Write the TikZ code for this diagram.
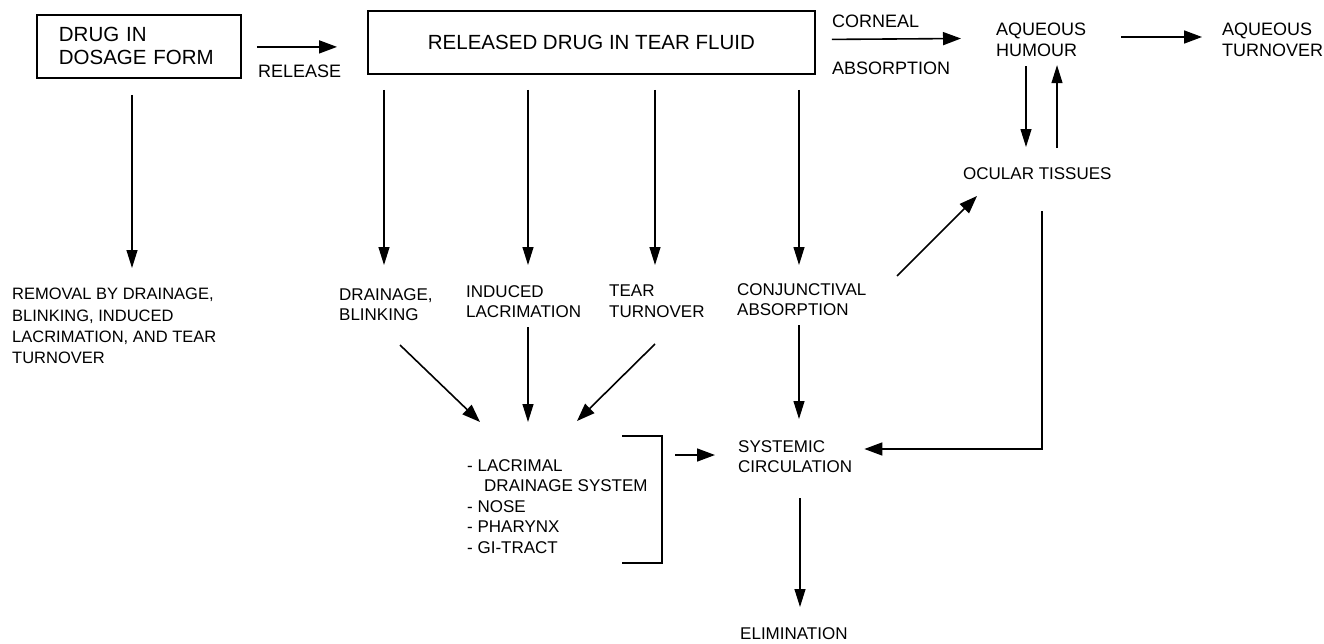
\documentclass[tikz,border=0pt]{standalone}
\usepackage{fontspec}
\setmainfont{Liberation Sans}
\usetikzlibrary{arrows.meta,calc}
\tikzset{
  lbl/.style={inner sep=0pt, anchor=north west, align=left, font=\fontsize{17}{20.5}\selectfont},
  lblup/.style={lbl, font=\fontsize{18}{21}\selectfont},
  lblrem/.style={lbl, font=\fontsize{16.5}{21.3}\selectfont},
  boxnode/.style={draw, line width=1.8pt, minimum height=63pt, inner ysep=0pt, font=\fontsize{20.5}{23}\selectfont},
  arr/.style={-{Triangle[length=18pt,width=13pt]}, line width=1.6pt},
  tarr/.style={-{Triangle[length=18pt,width=11pt]}, line width=1.2pt},
  brk/.style={line width=1.6pt}
}
\begin{document}
\begin{tikzpicture}[x=1pt,y=-1pt]
\useasboundingbox (0,0) rectangle (1324,643);
% boxes
\node[boxnode, anchor=north west, text width=160pt, inner xsep=22pt, align=left] (box1) at (36,14) {DRUG IN\\DOSAGE FORM};
\node[boxnode, anchor=north west, minimum width=447pt] (box2) at (367,10) {RELEASED DRUG IN TEAR FLUID};
% labels
\node[lblup] (rel) at (258,65) {RELEASE};
\node[lblup] (corn) at (832,15) {CORNEAL};
\node[lblup] (abs) at (832,62) {ABSORPTION};
\node[lblup] (aqh) at (996,23) {AQUEOUS\\HUMOUR};
\node[lblup] (aqt) at (1222,23) {AQUEOUS\\TURNOVER};
\node[lbl] (ocular) at (963,167) {OCULAR TISSUES};
\node[lblrem] (removal) at (12,288) {REMOVAL BY DRAINAGE,\\BLINKING, INDUCED\\LACRIMATION, AND TEAR\\TURNOVER};
\node[lbl] (drain) at (339,288) {DRAINAGE,\\BLINKING};
\node[lbl] (induced) at (466,285) {INDUCED\\LACRIMATION};
\node[lbl] (tear) at (609,285) {TEAR\\TURNOVER};
\node[lbl] (conj) at (737,283) {CONJUNCTIVAL\\ABSORPTION};
\node[lbl] (list) at (467,459) {- LACRIMAL\\\hspace*{17pt}DRAINAGE SYSTEM\\- NOSE\\- PHARYNX\\- GI-TRACT};
\node[lbl] (systemic) at (738,440) {SYSTEMIC\\CIRCULATION};
\node[lbl] (elim) at (740,627) {ELIMINATION};
% bracket
\coordinate (brtl) at (622,436);
\coordinate (brt) at (662,436);
\coordinate (brb) at (662,563);
\coordinate (brbl) at (622,563);
\draw[brk] (brtl) -- (brt) -- (brb) -- (brbl);
% top row arrows
\draw[arr] ($(box1.east)+(15,0.5)$) -- ($(box2.west)+(-30,4.5)$);
\draw[arr] ($(box2.east)+(16,-3)$) -- ($(aqh.north west)+(-35,15.5)$);
\draw[arr] ($(aqt.north west)+(-101,14)$) -- ($(aqt.north west)+(-20,14)$);
% aqueous <-> ocular
\draw[tarr] ($(ocular.north west |- aqh.south)+(63,9)$) -- ($(ocular.north west)+(63,-20)$);
\draw[tarr] ($(ocular.north west)+(94,-19)$) -- ($(ocular.north west |- aqh.south)+(94,8)$);
% downward arrows from boxes
\draw[tarr] ($(box1.south west)+(96,16)$) -- ($(removal.north west)+(120,-20)$);
\draw[tarr] ($(box2.south west)+(17,15)$) -- ($(drain.north west)+(45,-23)$);
\draw[tarr] ($(box2.south west)+(161,15)$) -- ($(induced.north west)+(62,-20)$);
\draw[tarr] ($(box2.south west)+(288,15)$) -- ($(tear.north west)+(46,-20)$);
\draw[tarr] ($(box2.south west)+(432,15)$) -- ($(conj.north west)+(62,-18)$);
% to lacrimal system
\draw[arr] ($(drain.north west)+(61,57)$) -- ($(list.north west)+(13,-37)$);
\draw[tarr] ($(induced.north west)+(62,42)$) -- ($(list.north west)+(61,-37)$);
\draw[arr] ($(tear.north west)+(46,59)$) -- ($(list.north west)+(110,-38)$);
% conjunctival
\draw[arr] ($(conj.north west)+(160,-7)$) -- ($(ocular.north west)+(14,29)$);
\draw[tarr] ($(conj.north west)+(62,42)$) -- ($(systemic.north west)+(61,-21)$);
% ocular -> systemic
\draw[arr] ($(ocular.north west)+(79,44)$) |- ($(systemic.north east)+(12,9)$);
% bracket -> systemic
\draw[arr] ($(brt)+(13,19)$) -- ($(systemic.north west)+(-23,15)$);
% systemic -> elimination
\draw[tarr] ($(systemic.north west)+(62,58)$) -- ($(elim.north west)+(60,-20)$);
\end{tikzpicture}
\end{document}
